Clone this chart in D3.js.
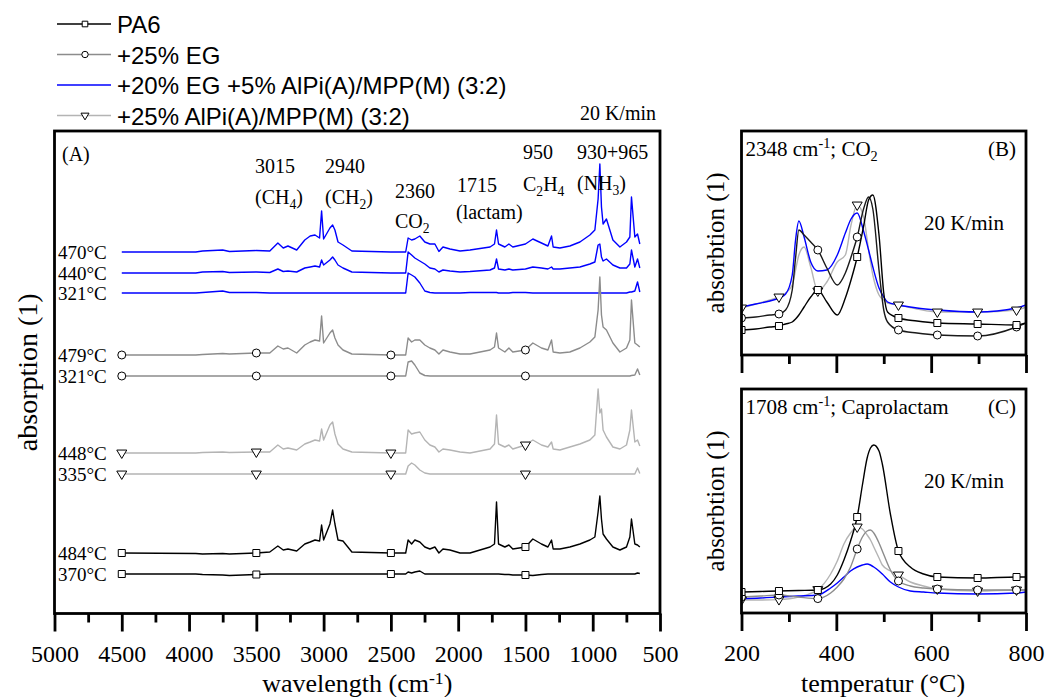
<!DOCTYPE html>
<html>
<head>
<meta charset="utf-8">
<script src="https://cdn.jsdelivr.net/npm/d3@7"></script>
<style>
  body { margin: 0; background: #fff; }
  svg { display: block; font-family: "Liberation Serif", "Times New Roman", serif; fill: #000; }
</style>
</head>
<body>
<svg id="chart" width="1059" height="697"></svg>
<script>
// ---------- data ----------
const legendNames = ["PA6", "+25% EG", "+20% EG +5% AlPi(A)/MPP(M) (3:2)", "+25% AlPi(A)/MPP(M) (3:2)"];

// panel A: FTIR spectra (wavenumber in cm-1, absorbance in a.u. above each stacked baseline)
const wavenumbers = [4500, 3950, 3900, 3750, 3700, 3500, 3400, 3340, 3300, 3265,
  3200, 3140, 3100, 3064, 3030, 3015, 3000, 2953, 2933, 2916,
  2893, 2856, 2790, 2500, 2390, 2372, 2346, 2322, 2285, 2248,
  2210, 2173, 2143, 2113, 2061, 1986, 1912, 1763, 1730, 1715,
  1700, 1653, 1623, 1594, 1500, 1445, 1381, 1333, 1306, 1294,
  1244, 1170, 1095, 1021, 984, 960, 947, 935, 923, 898,
  850, 798, 749, 724, 712, 687, 667, 650];

const absBlue470 = [0,0,1,2,0.5,1.5,1,9,4,6, 2,12,16,17,14,41,13,24,27,22,
  10,7,1,0,0,14,12,13,16,10, 8,8,0.5,5,3,1,2,5,8,22, 8,5,8,5,8,13,9,6,16,5,
  4,6,10,17,22,53,88,45,28,33, 12,5,10,15,55,15,18,8];
const absBlue440 = [0,0,1,1.5,0.5,1,0.5,4,1.5,2, 1,5,6,7,6,13,8,13,16,13,
  8,5,1,0,0,21,18,15,12,9, 5,4,1,3,2,1,1.5,3,5,14, 4,3,4,3,4,6,5,4,6,4,
  4,5,6,9,11,28,29,16,12,14, 8,5,5,9,23,6,14,5];
const absBlue321 = [0,0,0.5,2,0.5,0.5,0,0,0,0, 0,0,0,0,0,0,0,0,0,0,
  0,0,0,0,0,20,18,16,10,2, 0.5,0,0,0,0,0,0.5,0.5,0.5,0.5, 0,0,0,0.5,0.5,0,0,0,0,0,
  0,0,0,0,0,0,0,0,0,0, 0,0,0,1,1,2,11,1];
const absEG479 = [0,0,0.5,1.5,1,2,2,9,6,7, 2,10,13,15,14,39,12,22,25,17,
  10,5,1,0,0,17,13,15,15,10, 7,5,1,5,3,1,1,5,8,22, 7,3,7,3,5,12,7,5,15,3,
  2,3,7,13,18,45,78,40,28,25, 12,3,7,15,55,12,10,8];
const absEG321 = [0,0,0,0,0,0,0,0,0,0, 0,0,0,0,0,0,0,0,0,0,
  0,0,0,0,0,14,15,11,3,0.5, 0,0,0,0,0,0,0,0,0,0, 0,0,0,0,0,0,0,0,0,0,
  0,0,0,0,0,0,0,0,0,0, 0,0,0,0,0.5,1,7,1];
const absAlPi448 = [0,0,0.5,1,0.5,1,1,8,4,5, 3,9,11,13,12,24,13,28,31,19,
  9,4,1,0,0,23,19,20,21,13, 8,6,1,4,3,1,0,4,9,38, 9,6,8,4,8,13,8,6,11,4,
  3,6,9,13,18,64,40,44,23,16, 6,4,8,23,43,11,13,7];
const absAlPi335 = [0,0,0,0,0,0,0,0,0,0, 0,0,0,0,0,0,0,0,0,0,
  0,0,0,0,0,8,11,9,4,1, 0,0,0,0,0,0,0,0,0,0, 0,0,0,0,0,0,0,0,0,0,
  0,0,0,0,0,0,0,0,0,0, 0,0,0,0,0,0,6,0.5];
const absPA6484 = [0,-0.5,-1,-0.5,-1,0,1,7,3,4, 2,9,11,13,12,28,13,29,43,29,
  13,12,1,0,0,13,9,13,11,6, 4,6,0,4,3,0,0,6,9,51, 9,6,8,4,6,14,9,6,13,4,
  4,6,9,13,16,41,57,34,19,14, 6,3,6,16,34,9,8,6];
const absPA6370 = [0,0,-0.5,-1,-1.5,-0.5,0,0,0,0, 0,0,0,0,0,0,0,0,0,0,
  0,0,0,0,0,2,1,2,3,0, 0,0,0,0,0,0,0,0,0,0, 0,-0.5,-0.5,-1,-1,-1.5,-0.5,0,0,0,
  0,0,0,0,0,0,0,0,0,0, 0,0,0,0,0,0,1,0.5];

const spectraLabels = ["470°C", "440°C", "321°C", "479°C", "321°C", "448°C", "335°C", "484°C", "370°C"];
const spectraSample = [2, 2, 2, 1, 1, 3, 3, 0, 0];
const spectraOffset = [361.5, 340.5, 320.5, 258.5, 237.5, 160.5, 139.5, 60.5, 39.5];
const spectraValues = [absBlue470, absBlue440, absBlue321, absEG479, absEG321, absAlPi448, absAlPi335, absPA6484, absPA6370];
const markerWavenumbers = [4500, 3500, 2500, 1500];

// panel B: CO2 band 2348 cm-1 over temperature
const tempB = [200, 230, 260, 279, 293, 307, 314, 321, 332, 346, 361, 380, 402, 419, 431, 444, 458, 468, 477, 490, 500, 508, 531, 570, 613, 698, 780, 800];
const co2PA6 = [25,26,28,29,31,33,36,40,48,58,65,53,40,57,75,98,130,155,160,120,62,43,37,34,32,31,30,32];
const co2EG = [37,38,40,41,45,65,97,125,120,113,105,87,70,82,98,118,147,158,146,85,45,33,25,22,20,19,28,32];
const co2EGAlPi = [48,51,54,57,61,80,115,134,118,93,84,85,100,122,136,142,123,105,88,67,58,53,50,47,45,43,47,50];
const co2AlPi = [47,51,55,58,62,70,85,100,108,88,64,73,93,100,130,150,137,105,80,60,55,52,50,46,43,43,45,48];

// panel C: caprolactam band 1708 cm-1 over temperature
const tempC = [200, 240, 279, 320, 361, 388, 402, 416, 430, 444, 455, 465, 472, 479, 490, 497, 514, 531, 556, 584, 613, 698, 780, 800];
const lacPA6 = [21,21.5,22,22.5,23,29,38,53,72,96,128,155,165,168,162,149,99,62,46,39,36,35,36,36];
const lacEG = [16,17,18,16,14.4,20,26,34,46,64,76,82,83,80,70,62,43,32,27,25,24,23,23,23];
const lacEGAlPi = [14.4,15,16,17,18,25,30,36,42,46,48,49,48,46,42,39,31,26,22,21,20,19,20,21];
const lacAlPi = [13,13,13.4,16,23.4,39,52,69,80,86,84,78,73,66,55,48,42,38,31,27,24,22,23,23];
const markerTemps = [200, 279, 361, 444, 531, 613, 698, 780];

const waveTicks = [5000, 4500, 4000, 3500, 3000, 2500, 2000, 1500, 1000, 500];
const tempTicks = [200, 400, 600, 800];

// ---------- styles ----------
const sampleColor = ["#000000", "#8c8c8c", "#0000ff", "#b4b4b4"];
const sampleMarker = ["square", "circle", null, "triangle"];

const svg = d3.select("#chart");

function markerPath(kind, scale) {
  const s = scale || 1;
  if (kind === "square") return d3.symbol().type(d3.symbolSquare).size(49 * s * s)();
  if (kind === "circle") return d3.symbol().type(d3.symbolCircle).size(50 * s * s)();
  const w = 5 * s, h = 4.2 * s;
  return `M${-w},${-h * 0.7}L${w},${-h * 0.7}L0,${h * 1.3}Z`;
}

function drawMarkers(g, pts, kind, scale) {
  g.selectAll(null).data(pts).enter().append("path")
    .attr("d", markerPath(kind, scale))
    .attr("transform", d => `translate(${d[0]},${d[1]})`)
    .attr("fill", "#fff")
    .attr("stroke", "#000")
    .attr("stroke-width", 1);
}

function rich(parent, parts, attrs) {
  const t = parent.append("text");
  Object.entries(attrs).forEach(([k, v]) => t.attr(k, v));
  let shift = 0;
  parts.forEach(p => {
    const str = typeof p === "string" ? p : p[0];
    const kind = typeof p === "string" ? "" : p[1];
    const target = kind === "sub" ? 5 : kind === "sup" ? -8 : 0;
    const ts = t.append("tspan").text(str).attr("dy", target - shift);
    if (kind) ts.attr("font-size", "68%");
    shift = target;
  });
  return t;
}

function bottomAxis(g, scale, y, major, minor, labelY) {
  const ax = g.append("g").attr("transform", `translate(0,${y})`);
  ax.call(d3.axisBottom(scale).tickValues(minor).tickSize(9).tickFormat(""));
  const mj = g.append("g").attr("transform", `translate(0,${y})`);
  mj.call(d3.axisBottom(scale).tickValues(major).tickSize(18).tickFormat(d3.format("d")));
  [ax, mj].forEach(a => {
    a.select(".domain").remove();
    a.selectAll(".tick line").attr("stroke", "#000").attr("stroke-width", 2.8);
  });
  if (labelY === null) {
    mj.selectAll(".tick text").remove();
    return;
  }
  mj.selectAll(".tick text")
    .attr("y", labelY).attr("dy", 0)
    .attr("font-family", "Liberation Serif, serif")
    .attr("font-size", 24).attr("fill", "#000");
}

// ---------- legend ----------
const legend = svg.append("g");
legendNames.forEach((name, i) => {
  const y = 24 + i * 30.5;
  legend.append("line").attr("x1", 57).attr("x2", 111).attr("y1", y).attr("y2", y)
    .attr("stroke", sampleColor[i]).attr("stroke-width", 1.5);
  if (sampleMarker[i]) drawMarkers(legend, [[85, y]], sampleMarker[i], 0.8);
  legend.append("text").attr("x", 117).attr("y", y + 9)
    .style("font-family", "'Liberation Sans', Arial, sans-serif")
    .attr("font-size", 24).text(name);
});

// ---------- panel A ----------
const A = { left: 54.5, right: 660, top: 131, bottom: 613.5 };
const xA = d3.scaleLinear().domain([5000, 500]).range([A.left, A.right]);
const yA = d3.scaleLinear().domain([0, A.bottom - A.top]).range([A.bottom, A.top]);
const gA = svg.append("g");

spectraValues.forEach((vals, k) => {
  const off = spectraOffset[k];
  const s = spectraSample[k];
  const line = d3.line().x((d, i) => xA(wavenumbers[i])).y(d => yA(d + off));
  gA.append("path").datum(vals).attr("d", line)
    .attr("fill", "none").attr("stroke", sampleColor[s])
    .attr("stroke-width", 1.4).attr("stroke-linejoin", "round");
  gA.append("text").attr("x", 58).attr("y", yA(off) + 7)
    .attr("font-size", 19).text(spectraLabels[k]);
  if (sampleMarker[s]) {
    const pts = markerWavenumbers.map(w => {
      const i = wavenumbers.indexOf(w);
      return [xA(w), yA(vals[i] + off)];
    });
    drawMarkers(gA, pts, sampleMarker[s], 1);
  }
});

gA.append("rect").attr("x", A.left).attr("y", A.top)
  .attr("width", A.right - A.left).attr("height", A.bottom - A.top)
  .attr("fill", "none").attr("stroke", "#000").attr("stroke-width", 2.8);

bottomAxis(gA, xA, A.bottom, waveTicks, d3.range(4750, 500, -500), 48.5);

gA.append("text").attr("x", 62).attr("y", 161).attr("font-size", 20).text("(A)");
gA.append("text").attr("x", 656).attr("y", 120).attr("text-anchor", "end").attr("font-size", 20).text("20 K/min");

const annot = gA.append("g").attr("font-size", 20);
rich(annot, ["3015"], { x: 255, y: 173 });
rich(annot, ["(CH", ["4", "sub"], ")"], { x: 255, y: 204 });
rich(annot, ["2940"], { x: 325, y: 173 });
rich(annot, ["(CH", ["2", "sub"], ")"], { x: 325, y: 204 });
rich(annot, ["2360"], { x: 395, y: 198 });
rich(annot, ["CO", ["2", "sub"]], { x: 395, y: 228 });
rich(annot, ["1715"], { x: 457, y: 192 });
rich(annot, ["(lactam)"], { x: 456, y: 219 });
rich(annot, ["950"], { x: 523, y: 159 });
rich(annot, ["C", ["2", "sub"], "H", ["4", "sub"]], { x: 523, y: 191 });
rich(annot, ["930+965"], { x: 577, y: 159 });
rich(annot, ["(NH", ["3", "sub"], ")"], { x: 577, y: 190 });

rich(gA, ["wavelength (cm", ["-1", "sup"], ")"], { x: (A.left + A.right) / 2, y: 692, "text-anchor": "middle", "font-size": 26 });
gA.append("text").attr("transform", `translate(37,${(A.top + A.bottom) / 2}) rotate(-90)`)
  .attr("text-anchor", "middle").attr("font-size", 28).text("absorption (1)");

// ---------- panels B and C ----------
function tempPanel(box, temps, series, yLabel, title, tag, showLabels, curveColors) {
  const x = d3.scaleLinear().domain([200, 800]).range([box.left, box.right]);
  const y = d3.scaleLinear().domain([0, box.bottom - box.top]).range([box.bottom, box.top]);
  const g = svg.append("g");
  const clipId = "clip" + tag;
  svg.append("clipPath").attr("id", clipId).append("rect")
    .attr("x", box.left).attr("y", box.top)
    .attr("width", box.right - box.left).attr("height", box.bottom - box.top);
  const plot = g.append("g").attr("clip-path", `url(#${clipId})`);
  const line = d3.line().curve(d3.curveMonotoneX)
    .x((d, i) => x(temps[i])).y(d => y(d));
  const order = [3, 2, 1, 0];
  order.forEach(s => {
    plot.append("path").datum(series[s]).attr("d", line)
      .attr("fill", "none").attr("stroke", curveColors[s]).attr("stroke-width", 1.4);
  });
  order.forEach(s => {
    if (!sampleMarker[s]) return;
    const pts = markerTemps.map(t => [x(t), y(series[s][temps.indexOf(t)])]);
    drawMarkers(plot, pts, sampleMarker[s], 1);
  });
  g.append("rect").attr("x", box.left).attr("y", box.top)
    .attr("width", box.right - box.left).attr("height", box.bottom - box.top)
    .attr("fill", "none").attr("stroke", "#000").attr("stroke-width", 2.8);
  bottomAxis(g, x, box.bottom, tempTicks, [300, 500, 700], showLabels ? 48 : null);

  rich(g, title, { x: box.left + 4, y: box.top + 25, "font-size": 21 });
  g.append("text").attr("x", box.right - 10).attr("y", box.top + 25)
    .attr("text-anchor", "end").attr("font-size", 21).text(`(${tag})`);
  g.append("text").attr("x", 924).attr("y", box.top + 99).attr("font-size", 21).text("20 K/min");
  g.append("text").attr("transform", `translate(${box.left - 18},${(box.top + box.bottom) / 2}) rotate(-90)`)
    .attr("text-anchor", "middle").attr("font-size", 25).text(yLabel);
}

tempPanel({ left: 741.5, right: 1026, top: 131, bottom: 355 }, tempB,
  [co2PA6, co2EG, co2EGAlPi, co2AlPi], "absorbtion (1)",
  ["2348 cm", ["-1", "sup"], "; CO", ["2", "sub"]], "B", false,
  ["#000000", "#1a1a1a", "#0000ff", "#b4b4b4"]);

tempPanel({ left: 741.5, right: 1026, top: 389, bottom: 613 }, tempC,
  [lacPA6, lacEG, lacEGAlPi, lacAlPi], "absorbtion (1)",
  ["1708 cm", ["-1", "sup"], "; Caprolactam"], "C", true,
  ["#000000", "#8c8c8c", "#0000ff", "#b4b4b4"]);

svg.append("text").attr("x", 883).attr("y", 692).attr("text-anchor", "middle")
  .attr("font-size", 26).text("temperatur (°C)");
</script>
</body>
</html>
